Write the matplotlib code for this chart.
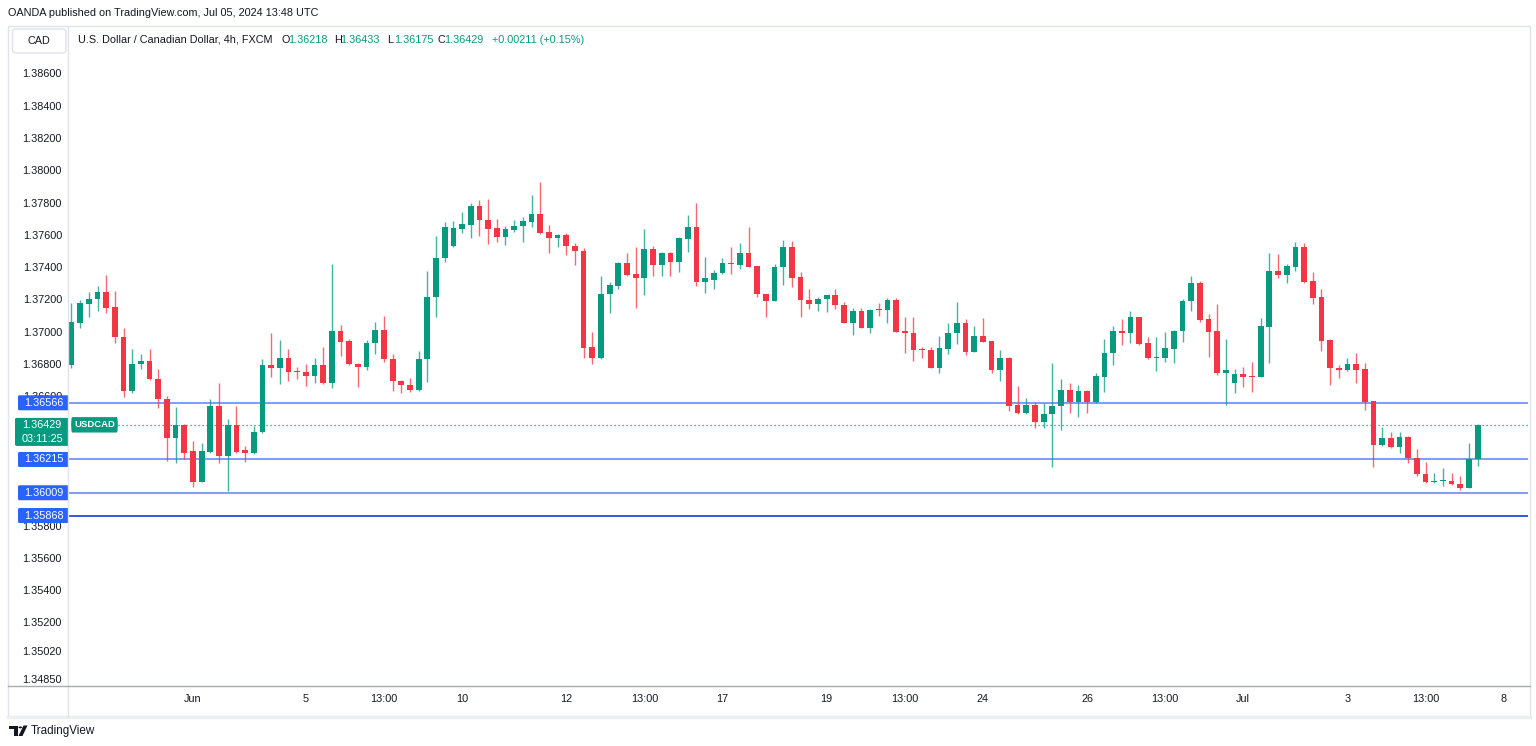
import matplotlib
matplotlib.use('Agg')
import matplotlib.pyplot as plt
from matplotlib.patches import FancyBboxPatch, Rectangle, Polygon, Circle
from matplotlib.lines import Line2D
from matplotlib.transforms import blended_transform_factory
import numpy as np

plt.rcParams['font.family'] = ['Liberation Sans', 'DejaVu Sans']

W, H = 1536, 746
GREEN = '#089981'
RED = '#F23645'
BLUE = '#2962FF'
TEXT = '#131722'

# USD/CAD 4h candles, Wed May 29 13:00 .. Fri Jul 5 13:00 (UTC)
opens = [
    1.36800, 1.37062, 1.37180, 1.37207, 1.37252, 1.37157, 1.36975, 1.36641, 1.36804, 1.36825,
    1.36713, 1.36588, 1.36350, 1.36428, 1.36270, 1.36077, 1.36263, 1.36546, 1.36237, 1.36428,
    1.36274, 1.36257, 1.36385, 1.36802, 1.36783, 1.36843, 1.36763, 1.36755, 1.36732, 1.36798,
    1.36690, 1.37009, 1.36948, 1.36808, 1.36785, 1.36938, 1.37017, 1.36839, 1.36703, 1.36676,
    1.36645, 1.36839, 1.37221, 1.37461, 1.37537, 1.37644, 1.37669, 1.37785, 1.37698, 1.37646,
    1.37591, 1.37638, 1.37659, 1.37685, 1.37737, 1.37622, 1.37586, 1.37605, 1.37537, 1.37508,
    1.36911, 1.36845, 1.37238, 1.37292, 1.37433, 1.37362, 1.37337, 1.37520, 1.37419, 1.37495,
    1.37436, 1.37583, 1.37656, 1.37316, 1.37326, 1.37368, 1.37432, 1.37419, 1.37492, 1.37413,
    1.37240, 1.37196, 1.37405, 1.37529, 1.37343, 1.37202, 1.37180, 1.37207, 1.37232, 1.37172,
    1.37060, 1.37136, 1.37029, 1.37143, 1.37139, 1.37202, 1.37010, 1.37000, 1.36897, 1.36893,
    1.36783, 1.36901, 1.36996, 1.37062, 1.36882, 1.36980, 1.36949, 1.36769, 1.36845, 1.36552,
    1.36501, 1.36552, 1.36445, 1.36497, 1.36546, 1.36645, 1.36573, 1.36639, 1.36569, 1.36728,
    1.36872, 1.37012, 1.36998, 1.37095, 1.36934, 1.36845, 1.36845, 1.36901, 1.37009, 1.37198,
    1.37310, 1.37085, 1.37012, 1.36752, 1.36690, 1.36744, 1.36732, 1.36728, 1.37037, 1.37382,
    1.37357, 1.37409, 1.37529, 1.37320, 1.37219, 1.36955, 1.36783, 1.36769, 1.36804, 1.36773,
    1.36579, 1.36305, 1.36346, 1.36294, 1.36352, 1.36226, 1.36123, 1.36074, 1.36082, 1.36084,
    1.36063, 1.36040, 1.36218,
]
highs = [
    1.37182, 1.37202, 1.37250, 1.37289, 1.37357, 1.37260, 1.37031, 1.36897, 1.36866, 1.36901,
    1.36777, 1.36610, 1.36538, 1.36435, 1.36329, 1.36317, 1.36589, 1.36687, 1.36464, 1.36546,
    1.36298, 1.36424, 1.36835, 1.36996, 1.36955, 1.36901, 1.36789, 1.36806, 1.36843, 1.36910,
    1.37425, 1.37046, 1.36959, 1.36810, 1.36955, 1.37064, 1.37105, 1.36868, 1.36707, 1.36718,
    1.36887, 1.37384, 1.37599, 1.37685, 1.37694, 1.37746, 1.37801, 1.37822, 1.37830, 1.37704,
    1.37663, 1.37698, 1.37718, 1.37853, 1.37931, 1.37667, 1.37611, 1.37619, 1.37554, 1.37523,
    1.37002, 1.37351, 1.37312, 1.37435, 1.37495, 1.37532, 1.37642, 1.37537, 1.37502, 1.37502,
    1.37594, 1.37729, 1.37801, 1.37471, 1.37388, 1.37461, 1.37532, 1.37554, 1.37653, 1.37415,
    1.37242, 1.37425, 1.37574, 1.37570, 1.37378, 1.37271, 1.37219, 1.37235, 1.37269, 1.37192,
    1.37151, 1.37151, 1.37147, 1.37182, 1.37213, 1.37213, 1.37095, 1.37095, 1.36913, 1.36910,
    1.36980, 1.37058, 1.37192, 1.37083, 1.37042, 1.37089, 1.36951, 1.36893, 1.36847, 1.36670,
    1.36594, 1.36573, 1.36567, 1.36814, 1.36713, 1.36687, 1.36676, 1.36645, 1.36749, 1.36959,
    1.37042, 1.37083, 1.37134, 1.37097, 1.36972, 1.36975, 1.37006, 1.37014, 1.37207, 1.37351,
    1.37320, 1.37116, 1.37178, 1.36959, 1.36773, 1.36786, 1.36820, 1.37093, 1.37495, 1.37487,
    1.37425, 1.37563, 1.37557, 1.37374, 1.37269, 1.36959, 1.36800, 1.36841, 1.36872, 1.36811,
    1.36580, 1.36414, 1.36387, 1.36387, 1.36360, 1.36278, 1.36201, 1.36133, 1.36160, 1.36129,
    1.36113, 1.36319, 1.36433,
]
lows = [
    1.36780, 1.37031, 1.37095, 1.37136, 1.37124, 1.36934, 1.36604, 1.36628, 1.36773, 1.36708,
    1.36532, 1.36204, 1.36191, 1.36216, 1.36046, 1.36075, 1.36257, 1.36195, 1.36022, 1.36257,
    1.36201, 1.36250, 1.36380, 1.36728, 1.36682, 1.36703, 1.36711, 1.36670, 1.36690, 1.36680,
    1.36659, 1.36858, 1.36800, 1.36666, 1.36769, 1.36868, 1.36820, 1.36641, 1.36625, 1.36635,
    1.36640, 1.36697, 1.37099, 1.37440, 1.37529, 1.37616, 1.37585, 1.37599, 1.37549, 1.37560,
    1.37543, 1.37624, 1.37560, 1.37656, 1.37609, 1.37492, 1.37533, 1.37481, 1.37419, 1.36845,
    1.36804, 1.36840, 1.37120, 1.37272, 1.37352, 1.37156, 1.37232, 1.37353, 1.37353, 1.37353,
    1.37378, 1.37498, 1.37289, 1.37244, 1.37269, 1.37365, 1.37363, 1.37393, 1.37405, 1.37219,
    1.37099, 1.37194, 1.37295, 1.37285, 1.37095, 1.37145, 1.37134, 1.37130, 1.37145, 1.37058,
    1.36986, 1.37027, 1.37000, 1.37103, 1.37058, 1.37004, 1.36876, 1.36825, 1.36845, 1.36780,
    1.36752, 1.36866, 1.36928, 1.36862, 1.36880, 1.36942, 1.36752, 1.36703, 1.36517, 1.36499,
    1.36499, 1.36408, 1.36408, 1.36170, 1.36398, 1.36501, 1.36480, 1.36501, 1.36567, 1.36631,
    1.36800, 1.36924, 1.36934, 1.36924, 1.36835, 1.36763, 1.36820, 1.36814, 1.36941, 1.37136,
    1.37068, 1.36851, 1.36738, 1.36552, 1.36625, 1.36662, 1.36635, 1.36725, 1.36811, 1.37341,
    1.37306, 1.37382, 1.37306, 1.37176, 1.36889, 1.36676, 1.36718, 1.36765, 1.36687, 1.36521,
    1.36170, 1.36298, 1.36284, 1.36257, 1.36195, 1.36113, 1.36071, 1.36072, 1.36051, 1.36057,
    1.36026, 1.36036, 1.36175,
]
closes = [
    1.37064, 1.37186, 1.37209, 1.37252, 1.37155, 1.36972, 1.36641, 1.36806, 1.36825, 1.36711,
    1.36588, 1.36350, 1.36428, 1.36253, 1.36077, 1.36269, 1.36546, 1.36237, 1.36428, 1.36263,
    1.36257, 1.36385, 1.36802, 1.36783, 1.36843, 1.36759, 1.36759, 1.36732, 1.36798, 1.36687,
    1.37009, 1.36944, 1.36804, 1.36785, 1.36938, 1.37017, 1.36835, 1.36701, 1.36676, 1.36645,
    1.36839, 1.37221, 1.37461, 1.37653, 1.37646, 1.37673, 1.37785, 1.37696, 1.37644, 1.37591,
    1.37642, 1.37663, 1.37690, 1.37737, 1.37617, 1.37586, 1.37605, 1.37535, 1.37508, 1.36907,
    1.36845, 1.37240, 1.37294, 1.37433, 1.37355, 1.37337, 1.37520, 1.37419, 1.37495, 1.37436,
    1.37585, 1.37656, 1.37316, 1.37337, 1.37372, 1.37430, 1.37425, 1.37492, 1.37409, 1.37238,
    1.37196, 1.37405, 1.37529, 1.37341, 1.37202, 1.37178, 1.37209, 1.37232, 1.37170, 1.37060,
    1.37136, 1.37029, 1.37141, 1.37139, 1.37202, 1.37006, 1.36996, 1.36893, 1.36895, 1.36783,
    1.36903, 1.37000, 1.37062, 1.36882, 1.36980, 1.36944, 1.36769, 1.36845, 1.36548, 1.36501,
    1.36552, 1.36445, 1.36497, 1.36546, 1.36645, 1.36573, 1.36639, 1.36569, 1.36732, 1.36876,
    1.37012, 1.36998, 1.37095, 1.36930, 1.36841, 1.36851, 1.36903, 1.37012, 1.37198, 1.37310,
    1.37079, 1.37006, 1.36752, 1.36769, 1.36744, 1.36728, 1.36728, 1.37042, 1.37382, 1.37357,
    1.37413, 1.37529, 1.37312, 1.37213, 1.36950, 1.36780, 1.36769, 1.36804, 1.36769, 1.36573,
    1.36305, 1.36346, 1.36294, 1.36352, 1.36226, 1.36123, 1.36077, 1.36082, 1.36088, 1.36061,
    1.36040, 1.36218, 1.36429,
]

time_tick_pos = [14, 27, 36, 45, 57, 66, 75, 87, 96, 105, 117, 126, 135, 147, 156, 165]
time_tick_labels = ['Jun', '5', '13:00', '10', '12', '13:00', '17', '19', '13:00',
                    '24', '26', '13:00', 'Jul', '3', '13:00', '8']

price_ticks = [1.386, 1.384, 1.382, 1.380, 1.378, 1.376, 1.374, 1.372, 1.370, 1.368,
               1.366, 1.358, 1.356, 1.354, 1.352, 1.3502, 1.3485]
price_tick_labels = ['1.38600', '1.38400', '1.38200', '1.38000', '1.37800', '1.37600',
                     '1.37400', '1.37200', '1.37000', '1.36800', '1.36600', '1.35800',
                     '1.35600', '1.35400', '1.35200', '1.35020', '1.34850']

levels = [1.36566, 1.36215, 1.36009, 1.35868]
level_line_colors = ['#7f9cf8', '#7f9cf8', '#7f9cf8', '#3358dc']

last_price = 1.36429
countdown = '03:11:25'
symbol = 'USDCAD'

header_parts = [
    ('U.S. Dollar / Canadian Dollar, 4h, FXCM', 78, TEXT),
    ('O', 282, TEXT), ('1.36218', 288.5, GREEN),
    ('H', 334, TEXT), ('1.36433', 340.5, GREEN),
    ('L', 387.5, TEXT), ('1.36175', 394, GREEN),
    ('C', 437.5, TEXT), ('1.36429', 444.5, GREEN),
    ('+0.00211 (+0.15%)', 491.5, GREEN),
]

# layout in pixels
PLOT_L, PLOT_R, PLOT_T, PLOT_B = 68, 1528, 26, 686
Y_MAX, Y_MIN = 1.388991, 1.348124
X_MIN, X_MAX = -0.40, 167.8
UPP = (Y_MAX - Y_MIN) / (PLOT_B - PLOT_T)   # price units per pixel


def fx(x):
    return x / W


def fy(y):
    return 1 - y / H


fig = plt.figure(figsize=(W / 100, H / 100), dpi=100)
fig.patch.set_facecolor('white')

ax = fig.add_axes([fx(PLOT_L), fy(PLOT_B), (PLOT_R - PLOT_L) / W, (PLOT_B - PLOT_T) / H])
ax.set_xlim(X_MIN, X_MAX)
ax.set_ylim(Y_MIN, Y_MAX)
for s in ax.spines.values():
    s.set_visible(False)
ax.set_yticks([])
ax.set_xticks(time_tick_pos)
ax.set_xticklabels(time_tick_labels)
ax.tick_params(axis='x', length=0, pad=5.5, labelsize=7.8, labelcolor=TEXT)

o = np.array(opens)
h = np.array(highs)
l = np.array(lows)
c = np.array(closes)
idx = np.arange(len(o))
cols = np.where(c >= o, GREEN, RED)

ax.vlines(idx, l, h, colors=cols, linewidth=1.0, alpha=0.75, zorder=3)
body_h = np.maximum(np.abs(c - o), UPP * 1.0)
ax.bar(idx, body_h, bottom=np.minimum(o, c), width=0.66, color=cols,
       linewidth=0, zorder=4)

for lev, lc in zip(levels, level_line_colors):
    ax.axhline(lev, color=lc, linewidth=1.4, zorder=2)

# last price dotted line and symbol tag
bt = blended_transform_factory(ax.transAxes, ax.transData)
tag_l = (71 - PLOT_L) / (PLOT_R - PLOT_L)
tag_w = 47 / (PLOT_R - PLOT_L)
ax.axhline(last_price, xmin=tag_l + tag_w, xmax=1, color=GREEN, linewidth=0.9,
           linestyle=(0, (1, 2.2)), zorder=2)
ax.add_patch(FancyBboxPatch((tag_l, last_price - 7.6 * UPP), tag_w, 15.4 * UPP,
                            boxstyle='round,pad=0,rounding_size=0.0008', transform=bt,
                            fc=GREEN, ec='none', zorder=6, clip_on=False))
ax.text(tag_l + tag_w / 2, last_price, symbol, transform=bt, ha='center', va='center',
        color='white', fontsize=6.8, fontweight='bold', zorder=7)

# price scale column
axp = fig.add_axes([fx(8), fy(PLOT_B), 60 / W, (PLOT_B - PLOT_T) / H])
axp.set_xlim(0, 60)
axp.set_ylim(Y_MIN, Y_MAX)
axp.axis('off')
for p, lab in zip(price_ticks, price_tick_labels):
    axp.text(54, p, lab, ha='right', va='center', fontsize=7.8, color=TEXT,
             clip_on=True, zorder=1)

for lev in levels:
    axp.add_patch(FancyBboxPatch((10, lev - 7.5 * UPP), 51, 15 * UPP,
                                 boxstyle='round,pad=0,rounding_size=1.5',
                                 mutation_aspect=UPP, fc=BLUE, ec='none', zorder=3))
    axp.text(35.5, lev, f'{lev:.5f}', ha='center', va='center', fontsize=7.8,
             color='white', zorder=4)

axp.add_patch(FancyBboxPatch((7, last_price - 21 * UPP), 54, 28 * UPP,
                             boxstyle='round,pad=0,rounding_size=1.5',
                             mutation_aspect=UPP, fc=GREEN, ec='none', zorder=3))
axp.text(34, last_price, f'{last_price:.5f}', ha='center', va='center', fontsize=7.8,
         color='white', zorder=4)
axp.text(34, last_price - 14 * UPP, countdown, ha='center', va='center', fontsize=7.8,
         color='white', zorder=4)

# frame and separators
fig.add_artist(Rectangle((fx(8), fy(717)), 1522 / W, 691 / H, transform=fig.transFigure,
                         fc='none', ec='#e0e3eb', lw=1.0))
fig.add_artist(Line2D([fx(8), fx(1530)], [fy(717), fy(717)], transform=fig.transFigure,
                      color='#eceef2', lw=2.5))
fig.add_artist(Line2D([fx(68), fx(68)], [fy(26), fy(717)], transform=fig.transFigure,
                      color='#e0e3eb', lw=1.0))
fig.add_artist(Line2D([fx(8), fx(1530)], [fy(686), fy(686)], transform=fig.transFigure,
                      color='#a8abb3', lw=1.0))

# currency box
fig.add_artist(FancyBboxPatch((fx(12.5), fy(53)), 53.5 / W, 24 / H,
                              boxstyle='round,pad=0,rounding_size=0.003',
                              transform=fig.transFigure, fc='white', ec='#e0e3eb', lw=1.0))
fig.text(fx(39), fy(41), 'CAD', ha='center', va='center', fontsize=7.8, color=TEXT)

# header texts
fig.text(fx(8), fy(13), 'OANDA published on TradingView.com, Jul 05, 2024 13:48 UTC',
         ha='left', va='center', fontsize=7.8, color=TEXT)
for txt, xpos, col in header_parts:
    fig.text(fx(xpos), fy(40), txt, ha='left', va='center', fontsize=7.8, color=col)

# TradingView logo
logo = '#131722'
fig.add_artist(Polygon([(fx(9), fy(725.5)), (fx(17.5), fy(725.5)), (fx(17.5), fy(736)),
                        (fx(13.5), fy(736)), (fx(13.5), fy(729)), (fx(9), fy(729))],
                       closed=True, transform=fig.transFigure, fc=logo, ec='none'))
fig.add_artist(Circle((fx(20.3), fy(727.4)), 1.9 / W, transform=fig.transFigure,
                      fc=logo, ec='none'))
fig.add_artist(Polygon([(fx(18.5), fy(736)), (fx(22.5), fy(736)), (fx(27.5), fy(725.5)),
                        (fx(23.5), fy(725.5))], closed=True, transform=fig.transFigure,
                       fc=logo, ec='none'))
fig.text(fx(31), fy(731), 'TradingView', ha='left', va='center', fontsize=8.4, color=TEXT)

fig.savefig('out.png', dpi=100, facecolor='white')
